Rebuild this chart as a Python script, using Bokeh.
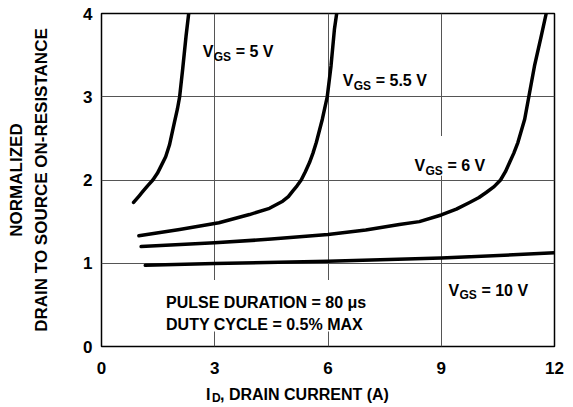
from bokeh.plotting import figure
from bokeh.models import Label, FixedTicker, Range1d
from bokeh.layouts import column
from bokeh.embed import file_html
from bokeh.resources import INLINE

# ---- data ----
x_ticks = [0, 3, 6, 9, 12]
y_ticks = [0, 1, 2, 3, 4]

vgs5_x = [0.85, 1.00, 1.09, 1.22, 1.36, 1.48, 1.58, 1.70, 1.80, 1.93, 2.01, 2.07, 2.15, 2.24, 2.31]
vgs5_y = [1.73, 1.81, 1.86, 1.93, 2.00, 2.08, 2.17, 2.28, 2.42, 2.69, 2.85, 3.00, 3.33, 3.73, 4.00]

vgs55_x = [0.99, 2.07, 3.11, 3.92, 4.45, 4.80, 4.95, 5.07, 5.18, 5.29, 5.40, 5.51, 5.60, 5.69, 5.85, 5.98, 6.08, 6.17, 6.23]
vgs55_y = [1.33, 1.405, 1.486, 1.585, 1.66, 1.745, 1.80, 1.87, 1.93, 2.00, 2.10, 2.21, 2.32, 2.45, 2.73, 3.00, 3.37, 3.81, 4.00]

vgs6_x = [1.05, 3.0, 4.5, 6.0, 7.0, 7.89, 8.42, 9.0, 9.4, 9.75, 10.0, 10.19, 10.4, 10.57, 10.7, 10.81, 10.92, 11.03, 11.21, 11.32, 11.47, 11.65, 11.78]
vgs6_y = [1.20, 1.245, 1.29, 1.345, 1.40, 1.465, 1.50, 1.58, 1.65, 1.73, 1.79, 1.85, 1.92, 2.00, 2.10, 2.21, 2.32, 2.45, 2.73, 3.00, 3.37, 3.73, 4.00]

vgs10_x = [1.16, 3.0, 6.0, 9.0, 12.0]
vgs10_y = [0.975, 0.997, 1.025, 1.062, 1.125]

curve_labels = ["= 5 V", "= 5.5 V", "= 6 V", "= 10 V"]
label_x = [2.68, 6.39, 8.29, 9.19]
label_y = [3.54, 3.19, 2.17, 0.676]

note_lines = ["PULSE DURATION = 80 \u03bcs", "DUTY CYCLE = 0.5% MAX"]
note_x = 1.71
note_y = [0.525, 0.264]

x_label_parts = ["I", "D", ", DRAIN CURRENT (A)"]
x_label_x = 2.77
y_label = "NORMALIZED\nDRAIN TO SOURCE ON-RESISTANCE"

FONT = "Liberation Sans"
LEFT, RIGHT = 101, 10

p = figure(width=564, height=376, x_range=Range1d(0, 12), y_range=Range1d(0, 4),
           output_backend="svg", toolbar_location=None,
           min_border_left=LEFT, min_border_right=RIGHT, min_border_top=13, min_border_bottom=30)
p.background_fill_color = "white"
p.border_fill_color = "white"
p.outline_line_color = "black"
p.outline_line_width = 1.5

p.xaxis.ticker = FixedTicker(ticks=x_ticks)
p.yaxis.ticker = FixedTicker(ticks=y_ticks)
for ax in (p.xaxis, p.yaxis):
    ax.major_tick_line_color = None
    ax.minor_tick_line_color = None
    ax.major_tick_out = 0
    ax.major_tick_in = 0
    ax.axis_line_color = None
    ax.major_label_text_font = FONT
    ax.major_label_text_font_style = "bold"
    ax.major_label_text_font_size = "17px"
    ax.major_label_text_color = "black"
p.xaxis.major_label_standoff = 15
p.yaxis.major_label_standoff = 9

p.yaxis.axis_label = y_label
p.yaxis.axis_label_text_font = FONT
p.yaxis.axis_label_text_font_style = "bold"
p.yaxis.axis_label_text_font_size = "17px"
p.yaxis.axis_label_text_color = "black"
p.yaxis.axis_label_text_line_height = 1.3
p.yaxis.axis_label_standoff = 29

p.grid.grid_line_color = "#555555"
p.grid.grid_line_width = 1

# white boxes behind some labels (hide grid lines)
p.quad(left=[8.2, 1.55], right=[10.2, 7.3], bottom=[2.05, 0.18], top=[2.53, 0.80],
       fill_color="white", line_color=None)

for xs, ys in [(vgs5_x, vgs5_y), (vgs55_x, vgs55_y), (vgs6_x, vgs6_y), (vgs10_x, vgs10_y)]:
    p.line(xs, ys, line_color="black", line_width=3.5, line_join="round", line_cap="round")

def add_text(fig, x, y, text, size, xo=0, yo=0):
    fig.add_layout(Label(x=x, y=y, text=text, x_offset=xo, y_offset=yo,
                         text_font=FONT, text_font_style="bold", text_font_size=size,
                         text_color="black", text_baseline="alphabetic", text_align="left"))

for t, lx, ly in zip(curve_labels, label_x, label_y):
    add_text(p, lx, ly, "V", "16px")
    add_text(p, lx, ly, "GS", "12px", xo=11, yo=-5)
    add_text(p, lx, ly, t, "16px", xo=33)

for t, ny in zip(note_lines, note_y):
    add_text(p, note_x, ny, t, "16px")

# x-axis title (with subscript) in a strip below the plot
q = figure(width=564, height=28, x_range=Range1d(0, 12), y_range=Range1d(0, 1),
           output_backend="svg", toolbar_location=None,
           min_border_left=LEFT, min_border_right=RIGHT, min_border_top=0, min_border_bottom=0)
q.axis.visible = False
q.grid.visible = False
q.outline_line_color = None
q.background_fill_color = "white"
q.border_fill_color = "white"
add_text(q, x_label_x, 0.36, x_label_parts[0], "16px")
add_text(q, x_label_x, 0.36, x_label_parts[1], "12px", xo=6, yo=-4)
add_text(q, x_label_x, 0.36, x_label_parts[2], "16px", xo=14)

layout = column(p, q, spacing=0)
open("out.html", "w").write(file_html(layout, INLINE))
